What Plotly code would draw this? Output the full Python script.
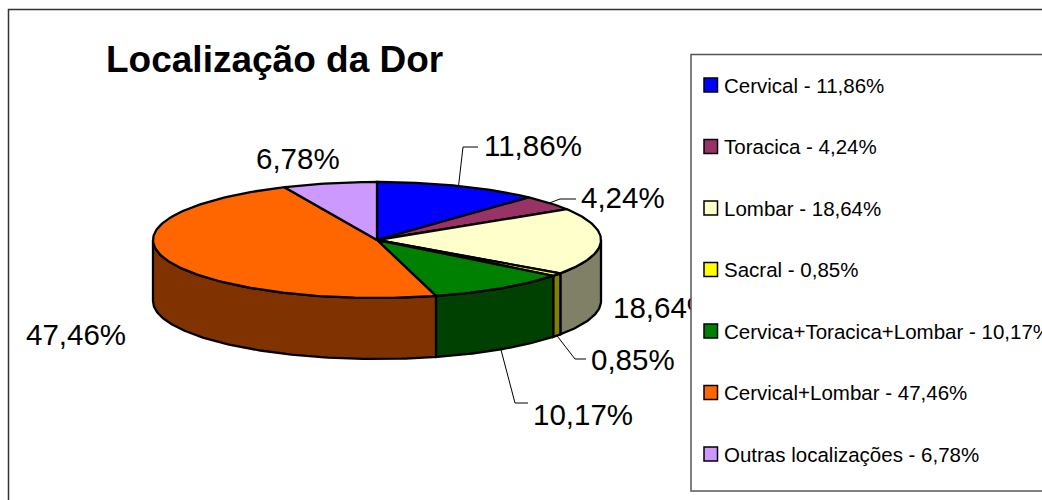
import math
import plotly.graph_objects as go

TITLE = "Localização da Dor"
categories = ["Cervical", "Toracica", "Lombar", "Sacral",
              "Cervica+Toracica+Lombar", "Cervical+Lombar", "Outras localizações"]
values = [11.86, 4.24, 18.64, 0.85, 10.17, 47.46, 6.78]
top_colors = ["#0000FF", "#993366", "#FFFFCC", "#FFFF00", "#008000", "#FF6600", "#CC99FF"]
side_colors = ["#000080", "#4D1A33", "#808066", "#808000", "#004000", "#803300", "#664D80"]

# layout in pixel space
W, H = 1042, 500
CX, CY, RX, RY, DEPTH = 377, 240, 224, 58, 61
label_pos = [(484, 149), (581, 201), (613, 311), (591, 363), (533, 418), (26, 338), (256, 162)]
# leader elbows per slice: (second point, end point); None when no leader is drawn
leaders = {0: ((463, 147), (478, 147)), 1: ((560, 199), (576, 199)),
           3: ((575, 359), (586, 359)), 4: ((515, 403), (528, 403))}
leader_on_side = {0: False, 1: False, 3: True, 4: True}


def pt(deg, dz=0.0):
    t = math.radians(deg)
    return CX + RX * math.sin(t), CY - RY * math.cos(t) + dz


def arc(a, b, dz=0.0):
    n = max(2, int(abs(b - a)) + 2)
    return [pt(a + (b - a) * i / (n - 1), dz) for i in range(n)]


# slice boundaries from the values
total = sum(values)
bounds = [0.0]
for v in values:
    bounds.append(bounds[-1] + v / total * 360)

fig = go.Figure()

# side walls (front half only)
for i, c in enumerate(side_colors):
    a, b = max(bounds[i], 90), min(bounds[i + 1], 270)
    if a >= b:
        continue
    poly = arc(a, b) + arc(b, a, DEPTH)
    poly.append(poly[0])
    fig.add_trace(go.Scatter(x=[p[0] for p in poly], y=[p[1] for p in poly], mode="lines",
                             fill="toself", fillcolor=c, line=dict(color="black", width=2.3),
                             hoverinfo="skip", showlegend=False))

# top faces
for i, c in enumerate(top_colors):
    poly = [(CX, CY)] + arc(bounds[i], bounds[i + 1]) + [(CX, CY)]
    fig.add_trace(go.Scatter(x=[p[0] for p in poly], y=[p[1] for p in poly], mode="lines",
                             fill="toself", fillcolor=c, line=dict(color="black", width=2.3),
                             name=categories[i], text=f"{values[i]:.2f}%".replace(".", ","),
                             hoverinfo="name+text", showlegend=False))

# leader lines
for i, (p2, p3) in leaders.items():
    mid = (bounds[i] + bounds[i + 1]) / 2
    p1 = pt(mid, DEPTH if leader_on_side[i] else 0)
    fig.add_trace(go.Scatter(x=[p1[0], p2[0], p3[0]], y=[p1[1], p2[1], p3[1]], mode="lines",
                             line=dict(color="black", width=1), hoverinfo="skip", showlegend=False))

# data labels (under the legend box, which clips 18,64%)
fig.add_trace(go.Scatter(x=[p[0] for p in label_pos], y=[p[1] for p in label_pos], mode="text",
                         text=[f"{v:.2f}%".replace(".", ",") for v in values],
                         textposition="middle right",
                         textfont=dict(family="Liberation Sans", size=29.5, color="black"),
                         hoverinfo="skip", showlegend=False))

shapes = [
    dict(type="rect", x0=8.5, y0=9.5, x1=W + 20, y1=H + 20, layer="below",
         line=dict(color="#333333", width=1.5), fillcolor="white"),
    dict(type="rect", x0=691, y0=54.5, x1=W + 20, y1=491, layer="above",
         line=dict(color="#555555", width=1.5), fillcolor="white"),
]
annotations = [dict(x=104, y=59, text=f"<b>{TITLE}</b>", showarrow=False, xanchor="left", yanchor="middle",
                    font=dict(family="Liberation Sans", size=37, color="black"))]
for i, (cat, v, c) in enumerate(zip(categories, values, top_colors)):
    yc = 85 + 61.5 * i
    shapes.append(dict(type="rect", x0=704, x1=717.5, y0=yc - 7, y1=yc + 7, layer="above",
                       line=dict(color="black", width=1.5), fillcolor=c))
    annotations.append(dict(x=722, y=yc, text=f"{cat} - {v:.2f}%".replace(".", ","), showarrow=False,
                            xanchor="left", yanchor="middle",
                            font=dict(family="Liberation Sans", size=20.5, color="black")))

fig.update_layout(
    width=W, height=H, autosize=False, margin=dict(l=0, r=0, t=0, b=0),
    paper_bgcolor="white", plot_bgcolor="white", showlegend=False,
    xaxis=dict(range=[0, W], visible=False, fixedrange=True),
    yaxis=dict(range=[H, 0], visible=False, fixedrange=True),
    shapes=shapes, annotations=annotations,
)
fig.write_html("out.html", config={"displayModeBar": False},
               post_script="document.body.style.margin='0';")
